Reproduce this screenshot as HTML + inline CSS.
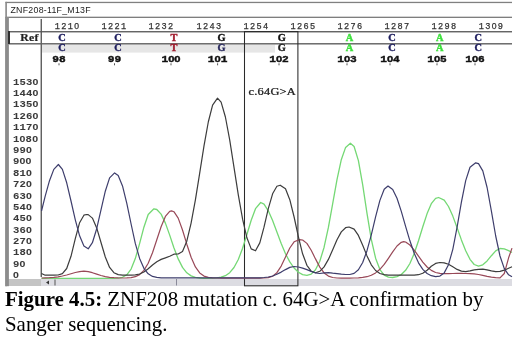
<!DOCTYPE html>
<html><head><meta charset="utf-8"><style>
html,body{margin:0;padding:0;background:#fff;}
body{width:520px;height:337px;position:relative;overflow:hidden;}
svg{position:absolute;left:0;top:0;will-change:transform;}
.cap{position:absolute;left:5px;top:287px;width:515px;font-family:"Liberation Serif",serif;font-size:20.9px;line-height:24.6px;color:#000;white-space:nowrap;will-change:transform;}
</style></head><body>
<svg width="520" height="290" viewBox="0 0 520 290">
<rect x="42" y="44.6" width="233" height="8" fill="#e6e6e6"/>
<rect x="8" y="279" width="504" height="7" fill="#dcdce2"/>
<rect x="8" y="279" width="33" height="7" fill="#c4c4c4"/>
<rect x="5.5" y="1.8" width="506.5" height="1.3" fill="#808080"/>
<rect x="5.5" y="16.7" width="506.5" height="1.2" fill="#707070"/>
<rect x="5.3" y="1.8" width="1.6" height="284.4" fill="#888"/>
<rect x="5.3" y="17" width="3.6" height="269.2" fill="#8c8c8c"/>
<rect x="40.6" y="19" width="1.3" height="258" fill="#505050"/>
<rect x="9" y="31.1" width="503" height="1.3" fill="#555"/>
<rect x="9" y="43.1" width="503" height="1.4" fill="#606060"/>
<rect x="8" y="31" width="2" height="13" fill="#303030"/>
<text x="10.5" y="13" font-family="Liberation Sans" font-size="8.8" fill="#222" letter-spacing="0.25">ZNF208-11F_M13F</text>
<text transform="translate(38.8 0) scale(1.13 1)" x="0" y="41" font-family="Liberation Serif" font-weight="bold" font-size="10.4" fill="#222" stroke="#222" stroke-width="0.2" text-anchor="end" letter-spacing="0.3">Ref</text>
<text x="67.5" y="28.8" font-family="Liberation Mono" font-size="8.6" fill="#333" stroke="#333" stroke-width="0.25" text-anchor="middle" letter-spacing="1.3">121<tspan font-family="Liberation Sans">0</tspan></text>
<text x="114.5" y="28.8" font-family="Liberation Mono" font-size="8.6" fill="#333" stroke="#333" stroke-width="0.25" text-anchor="middle" letter-spacing="1.3">1221</text>
<text x="161.5" y="28.8" font-family="Liberation Mono" font-size="8.6" fill="#333" stroke="#333" stroke-width="0.25" text-anchor="middle" letter-spacing="1.3">1232</text>
<text x="209.5" y="28.8" font-family="Liberation Mono" font-size="8.6" fill="#333" stroke="#333" stroke-width="0.25" text-anchor="middle" letter-spacing="1.3">1243</text>
<text x="256.5" y="28.8" font-family="Liberation Mono" font-size="8.6" fill="#333" stroke="#333" stroke-width="0.25" text-anchor="middle" letter-spacing="1.3">1254</text>
<text x="303.5" y="28.8" font-family="Liberation Mono" font-size="8.6" fill="#333" stroke="#333" stroke-width="0.25" text-anchor="middle" letter-spacing="1.3">1265</text>
<text x="350.5" y="28.8" font-family="Liberation Mono" font-size="8.6" fill="#333" stroke="#333" stroke-width="0.25" text-anchor="middle" letter-spacing="1.3">1276</text>
<text x="397.5" y="28.8" font-family="Liberation Mono" font-size="8.6" fill="#333" stroke="#333" stroke-width="0.25" text-anchor="middle" letter-spacing="1.3">1287</text>
<text x="444.5" y="28.8" font-family="Liberation Mono" font-size="8.6" fill="#333" stroke="#333" stroke-width="0.25" text-anchor="middle" letter-spacing="1.3">1298</text>
<text x="491.5" y="28.8" font-family="Liberation Mono" font-size="8.6" fill="#333" stroke="#333" stroke-width="0.25" text-anchor="middle" letter-spacing="1.3">13<tspan font-family="Liberation Sans">0</tspan>9</text>
<text transform="translate(62.0 0) scale(1.1 1)" x="0" y="40.6" font-family="Liberation Serif" font-weight="bold" font-size="9.4" fill="#1e1e5e" stroke="#1e1e5e" stroke-width="0.35" text-anchor="middle">C</text>
<text transform="translate(62.0 0) scale(1.1 1)" x="0" y="50.8" font-family="Liberation Serif" font-weight="bold" font-size="9.4" fill="#1e1e5e" stroke="#1e1e5e" stroke-width="0.35" text-anchor="middle">C</text>
<text transform="translate(118.0 0) scale(1.1 1)" x="0" y="40.6" font-family="Liberation Serif" font-weight="bold" font-size="9.4" fill="#1e1e5e" stroke="#1e1e5e" stroke-width="0.35" text-anchor="middle">C</text>
<text transform="translate(118.0 0) scale(1.1 1)" x="0" y="50.8" font-family="Liberation Serif" font-weight="bold" font-size="9.4" fill="#1e1e5e" stroke="#1e1e5e" stroke-width="0.35" text-anchor="middle">C</text>
<text transform="translate(174.0 0) scale(1.1 1)" x="0" y="40.6" font-family="Liberation Serif" font-weight="bold" font-size="9.4" fill="#a01a2c" stroke="#a01a2c" stroke-width="0.35" text-anchor="middle">T</text>
<text transform="translate(174.0 0) scale(1.1 1)" x="0" y="50.8" font-family="Liberation Serif" font-weight="bold" font-size="9.4" fill="#a01a2c" stroke="#a01a2c" stroke-width="0.35" text-anchor="middle">T</text>
<text transform="translate(221.5 0) scale(1.1 1)" x="0" y="40.6" font-family="Liberation Serif" font-weight="bold" font-size="9.4" fill="#111" stroke="#111" stroke-width="0.35" text-anchor="middle">G</text>
<text transform="translate(221.5 0) scale(1.1 1)" x="0" y="50.8" font-family="Liberation Serif" font-weight="bold" font-size="9.4" fill="#2a2a5e" stroke="#2a2a5e" stroke-width="0.35" text-anchor="middle">G</text>
<text transform="translate(281.8 0) scale(1.1 1)" x="0" y="40.6" font-family="Liberation Serif" font-weight="bold" font-size="9.4" fill="#111" stroke="#111" stroke-width="0.35" text-anchor="middle">G</text>
<text transform="translate(281.8 0) scale(1.1 1)" x="0" y="50.8" font-family="Liberation Serif" font-weight="bold" font-size="9.4" fill="#222" stroke="#222" stroke-width="0.35" text-anchor="middle">G</text>
<text transform="translate(349.6 0) scale(1.1 1)" x="0" y="40.6" font-family="Liberation Serif" font-weight="bold" font-size="9.4" fill="#3ee03e" stroke="#3ee03e" stroke-width="0.35" text-anchor="middle">A</text>
<text transform="translate(349.6 0) scale(1.1 1)" x="0" y="50.8" font-family="Liberation Serif" font-weight="bold" font-size="9.4" fill="#3ee03e" stroke="#3ee03e" stroke-width="0.35" text-anchor="middle">A</text>
<text transform="translate(392.0 0) scale(1.1 1)" x="0" y="40.6" font-family="Liberation Serif" font-weight="bold" font-size="9.4" fill="#1e1e5e" stroke="#1e1e5e" stroke-width="0.35" text-anchor="middle">C</text>
<text transform="translate(392.0 0) scale(1.1 1)" x="0" y="50.8" font-family="Liberation Serif" font-weight="bold" font-size="9.4" fill="#1e1e5e" stroke="#1e1e5e" stroke-width="0.35" text-anchor="middle">C</text>
<text transform="translate(439.8 0) scale(1.1 1)" x="0" y="40.6" font-family="Liberation Serif" font-weight="bold" font-size="9.4" fill="#3ee03e" stroke="#3ee03e" stroke-width="0.35" text-anchor="middle">A</text>
<text transform="translate(439.8 0) scale(1.1 1)" x="0" y="50.8" font-family="Liberation Serif" font-weight="bold" font-size="9.4" fill="#3ee03e" stroke="#3ee03e" stroke-width="0.35" text-anchor="middle">A</text>
<text transform="translate(478.3 0) scale(1.1 1)" x="0" y="40.6" font-family="Liberation Serif" font-weight="bold" font-size="9.4" fill="#1e1e5e" stroke="#1e1e5e" stroke-width="0.35" text-anchor="middle">C</text>
<text transform="translate(478.3 0) scale(1.1 1)" x="0" y="50.8" font-family="Liberation Serif" font-weight="bold" font-size="9.4" fill="#1e1e5e" stroke="#1e1e5e" stroke-width="0.35" text-anchor="middle">C</text>
<text transform="translate(59.0 0) scale(1.2 1)" x="0" y="61.7" font-family="Liberation Mono" font-weight="bold" font-size="9.3" fill="#111" stroke="#111" stroke-width="0.4" text-anchor="middle">98</text>
<rect x="58.5" y="63.3" width="1" height="2" fill="#555"/>
<text transform="translate(114.5 0) scale(1.2 1)" x="0" y="61.7" font-family="Liberation Mono" font-weight="bold" font-size="9.3" fill="#111" stroke="#111" stroke-width="0.4" text-anchor="middle">99</text>
<rect x="114.0" y="63.3" width="1" height="2" fill="#555"/>
<text transform="translate(171.0 0) scale(1.2 1)" x="0" y="61.7" font-family="Liberation Mono" font-weight="bold" font-size="9.3" fill="#111" stroke="#111" stroke-width="0.4" text-anchor="middle">1<tspan font-family="Liberation Sans">0</tspan><tspan font-family="Liberation Sans">0</tspan></text>
<rect x="170.5" y="63.3" width="1" height="2" fill="#555"/>
<text transform="translate(217.6 0) scale(1.2 1)" x="0" y="61.7" font-family="Liberation Mono" font-weight="bold" font-size="9.3" fill="#111" stroke="#111" stroke-width="0.4" text-anchor="middle">1<tspan font-family="Liberation Sans">0</tspan>1</text>
<rect x="217.1" y="63.3" width="1" height="2" fill="#555"/>
<text transform="translate(279.0 0) scale(1.2 1)" x="0" y="61.7" font-family="Liberation Mono" font-weight="bold" font-size="9.3" fill="#111" stroke="#111" stroke-width="0.4" text-anchor="middle">1<tspan font-family="Liberation Sans">0</tspan>2</text>
<rect x="278.5" y="63.3" width="1" height="2" fill="#555"/>
<text transform="translate(347.0 0) scale(1.2 1)" x="0" y="61.7" font-family="Liberation Mono" font-weight="bold" font-size="9.3" fill="#111" stroke="#111" stroke-width="0.4" text-anchor="middle">1<tspan font-family="Liberation Sans">0</tspan>3</text>
<rect x="346.5" y="63.3" width="1" height="2" fill="#555"/>
<text transform="translate(390.0 0) scale(1.2 1)" x="0" y="61.7" font-family="Liberation Mono" font-weight="bold" font-size="9.3" fill="#111" stroke="#111" stroke-width="0.4" text-anchor="middle">1<tspan font-family="Liberation Sans">0</tspan>4</text>
<rect x="389.5" y="63.3" width="1" height="2" fill="#555"/>
<text transform="translate(437.0 0) scale(1.2 1)" x="0" y="61.7" font-family="Liberation Mono" font-weight="bold" font-size="9.3" fill="#111" stroke="#111" stroke-width="0.4" text-anchor="middle">1<tspan font-family="Liberation Sans">0</tspan>5</text>
<rect x="436.5" y="63.3" width="1" height="2" fill="#555"/>
<text transform="translate(475.0 0) scale(1.2 1)" x="0" y="61.7" font-family="Liberation Mono" font-weight="bold" font-size="9.3" fill="#111" stroke="#111" stroke-width="0.4" text-anchor="middle">1<tspan font-family="Liberation Sans">0</tspan>6</text>
<rect x="474.5" y="63.3" width="1" height="2" fill="#555"/>
<text transform="translate(12.9 0) scale(1.2 1)" x="0" y="84.8" font-family="Liberation Mono" font-weight="bold" font-size="8.8" fill="#3a3a3a" stroke="#3a3a3a" stroke-width="0.05" letter-spacing="0.2">153<tspan font-family="Liberation Sans">0</tspan></text>
<text transform="translate(12.9 0) scale(1.2 1)" x="0" y="96.2" font-family="Liberation Mono" font-weight="bold" font-size="8.8" fill="#3a3a3a" stroke="#3a3a3a" stroke-width="0.05" letter-spacing="0.2">144<tspan font-family="Liberation Sans">0</tspan></text>
<text transform="translate(12.9 0) scale(1.2 1)" x="0" y="107.5" font-family="Liberation Mono" font-weight="bold" font-size="8.8" fill="#3a3a3a" stroke="#3a3a3a" stroke-width="0.05" letter-spacing="0.2">135<tspan font-family="Liberation Sans">0</tspan></text>
<text transform="translate(12.9 0) scale(1.2 1)" x="0" y="118.9" font-family="Liberation Mono" font-weight="bold" font-size="8.8" fill="#3a3a3a" stroke="#3a3a3a" stroke-width="0.05" letter-spacing="0.2">126<tspan font-family="Liberation Sans">0</tspan></text>
<text transform="translate(12.9 0) scale(1.2 1)" x="0" y="130.3" font-family="Liberation Mono" font-weight="bold" font-size="8.8" fill="#3a3a3a" stroke="#3a3a3a" stroke-width="0.05" letter-spacing="0.2">117<tspan font-family="Liberation Sans">0</tspan></text>
<text transform="translate(12.9 0) scale(1.2 1)" x="0" y="141.7" font-family="Liberation Mono" font-weight="bold" font-size="8.8" fill="#3a3a3a" stroke="#3a3a3a" stroke-width="0.05" letter-spacing="0.2">1<tspan font-family="Liberation Sans">0</tspan>8<tspan font-family="Liberation Sans">0</tspan></text>
<text transform="translate(12.9 0) scale(1.2 1)" x="0" y="153.1" font-family="Liberation Mono" font-weight="bold" font-size="8.8" fill="#3a3a3a" stroke="#3a3a3a" stroke-width="0.05" letter-spacing="0.2">99<tspan font-family="Liberation Sans">0</tspan></text>
<text transform="translate(12.9 0) scale(1.2 1)" x="0" y="164.4" font-family="Liberation Mono" font-weight="bold" font-size="8.8" fill="#3a3a3a" stroke="#3a3a3a" stroke-width="0.05" letter-spacing="0.2">9<tspan font-family="Liberation Sans">0</tspan><tspan font-family="Liberation Sans">0</tspan></text>
<text transform="translate(12.9 0) scale(1.2 1)" x="0" y="175.8" font-family="Liberation Mono" font-weight="bold" font-size="8.8" fill="#3a3a3a" stroke="#3a3a3a" stroke-width="0.05" letter-spacing="0.2">81<tspan font-family="Liberation Sans">0</tspan></text>
<text transform="translate(12.9 0) scale(1.2 1)" x="0" y="187.2" font-family="Liberation Mono" font-weight="bold" font-size="8.8" fill="#3a3a3a" stroke="#3a3a3a" stroke-width="0.05" letter-spacing="0.2">72<tspan font-family="Liberation Sans">0</tspan></text>
<text transform="translate(12.9 0) scale(1.2 1)" x="0" y="198.6" font-family="Liberation Mono" font-weight="bold" font-size="8.8" fill="#3a3a3a" stroke="#3a3a3a" stroke-width="0.05" letter-spacing="0.2">63<tspan font-family="Liberation Sans">0</tspan></text>
<text transform="translate(12.9 0) scale(1.2 1)" x="0" y="209.9" font-family="Liberation Mono" font-weight="bold" font-size="8.8" fill="#3a3a3a" stroke="#3a3a3a" stroke-width="0.05" letter-spacing="0.2">54<tspan font-family="Liberation Sans">0</tspan></text>
<text transform="translate(12.9 0) scale(1.2 1)" x="0" y="221.3" font-family="Liberation Mono" font-weight="bold" font-size="8.8" fill="#3a3a3a" stroke="#3a3a3a" stroke-width="0.05" letter-spacing="0.2">45<tspan font-family="Liberation Sans">0</tspan></text>
<text transform="translate(12.9 0) scale(1.2 1)" x="0" y="232.7" font-family="Liberation Mono" font-weight="bold" font-size="8.8" fill="#3a3a3a" stroke="#3a3a3a" stroke-width="0.05" letter-spacing="0.2">36<tspan font-family="Liberation Sans">0</tspan></text>
<text transform="translate(12.9 0) scale(1.2 1)" x="0" y="244.1" font-family="Liberation Mono" font-weight="bold" font-size="8.8" fill="#3a3a3a" stroke="#3a3a3a" stroke-width="0.05" letter-spacing="0.2">27<tspan font-family="Liberation Sans">0</tspan></text>
<text transform="translate(12.9 0) scale(1.2 1)" x="0" y="255.4" font-family="Liberation Mono" font-weight="bold" font-size="8.8" fill="#3a3a3a" stroke="#3a3a3a" stroke-width="0.05" letter-spacing="0.2">18<tspan font-family="Liberation Sans">0</tspan></text>
<text transform="translate(12.9 0) scale(1.2 1)" x="0" y="266.8" font-family="Liberation Mono" font-weight="bold" font-size="8.8" fill="#3a3a3a" stroke="#3a3a3a" stroke-width="0.05" letter-spacing="0.2">9<tspan font-family="Liberation Sans">0</tspan></text>
<text transform="translate(12.9 0) scale(1.2 1)" x="0" y="278.2" font-family="Liberation Mono" font-weight="bold" font-size="8.8" fill="#3a3a3a" stroke="#3a3a3a" stroke-width="0.05" letter-spacing="0.2"><tspan font-family="Liberation Sans">0</tspan></text>
<rect x="244.5" y="31.6" width="53.4" height="254.2" fill="none" stroke="#2a2a2a" stroke-width="1.05"/>
<text transform="translate(248.6 0) scale(1.32 1)" x="0" y="94.8" font-family="Liberation Serif" font-size="9.4" fill="#222" stroke="#222" stroke-width="0.25" letter-spacing="0.15">c.64G&gt;A</text>
<path d="M49 280.5 L46 282.5 L49 284.5 Z" fill="#333"/>
<rect x="54.5" y="279.5" width="1" height="6" fill="#555"/>
<rect x="176" y="279" width="1" height="6.5" fill="#8a8a9a"/>
<defs><filter id="b" x="-5%" y="-5%" width="110%" height="110%"><feGaussianBlur stdDeviation="0.35"/></filter></defs>
<g fill="none" stroke-width="1.2" stroke-linejoin="round" filter="url(#b)">
<path d="M41.5 278.4 L45.2 278.4 L49.5 278.4 L53.8 278.4 L58.1 278.4 L62.4 278.4 L66.7 278.4 L71.0 278.4 L75.3 278.4 L79.6 278.4 L83.9 278.4 L88.2 278.4 L92.4 278.4 L96.7 278.4 L101.0 278.4 L105.3 278.4 L109.6 278.4 L113.9 278.3 L118.2 278.1 L122.5 277.3 L126.8 274.8 L131.1 269.1 L135.3 258.6 L139.6 243.6 L143.9 227.2 L148.2 214.5 L153.9 208.8 L156.8 209.5 L161.1 214.1 L165.4 223.1 L169.7 235.1 L173.9 247.8 L178.2 258.9 L182.5 267.4 L186.8 272.8 L191.1 275.9 L195.4 277.4 L199.7 278.0 L204.0 278.3 L208.3 278.3 L212.6 278.2 L216.9 277.9 L221.1 277.2 L225.4 275.7 L229.7 272.7 L234.0 267.5 L238.3 259.5 L242.6 248.2 L246.9 234.5 L251.2 220.3 L255.5 208.7 L260.7 202.5 L264.0 204.2 L268.3 210.8 L272.6 220.6 L276.9 232.1 L281.2 243.6 L285.5 253.7 L289.8 261.9 L294.1 268.0 L298.4 272.2 L302.6 274.6 L306.9 275.3 L311.2 274.1 L315.5 269.8 L319.8 261.3 L324.1 247.2 L328.4 227.4 L332.7 203.7 L337.0 179.6 L341.3 159.7 L345.6 147.4 L350.4 143.3 L354.1 146.5 L358.4 160.6 L362.7 184.8 L367.0 213.3 L371.3 239.3 L375.6 258.2 L379.9 269.6 L384.2 275.1 L388.4 277.2 L392.7 277.5 L397.0 276.6 L401.3 274.5 L405.6 270.3 L409.9 263.5 L414.2 253.5 L418.5 240.8 L422.8 226.8 L427.1 213.6 L431.3 203.7 L435.6 198.4 L438.6 197.5 L444.2 200.2 L448.5 206.5 L452.8 216.1 L457.1 227.8 L461.4 239.9 L465.7 250.8 L470.0 259.3 L474.2 264.5 L478.5 266.2 L482.8 264.8 L487.1 260.9 L491.4 255.7 L495.7 250.9 L500.0 248.5 L504.3 248.9 L508.6 250.6 L512.0 252.5" stroke="#74d874" stroke-width="1.3"/>
<path d="M41.5 278.0 L45.2 277.9 L49.5 277.7 L53.8 277.4 L58.1 276.8 L62.4 276.0 L66.7 275.0 L71.0 273.7 L75.3 272.5 L79.6 271.6 L83.9 271.2 L88.2 271.6 L92.4 272.7 L96.7 274.1 L101.0 275.5 L105.3 276.6 L109.6 277.3 L113.9 277.7 L118.2 277.9 L122.5 278.0 L126.8 277.9 L131.1 277.6 L135.3 276.7 L139.6 274.6 L143.9 270.4 L148.2 263.2 L152.5 252.7 L156.8 239.7 L161.1 226.7 L165.4 216.4 L169.7 211.3 L171.6 210.9 L173.9 211.7 L178.2 218.1 L182.5 230.0 L186.8 244.2 L191.1 257.2 L195.4 266.9 L199.7 272.9 L204.0 276.1 L208.3 277.4 L212.6 277.9 L216.9 278.0 L221.1 278.1 L225.4 278.1 L229.7 278.1 L234.0 278.1 L238.3 278.1 L242.6 278.1 L246.9 278.1 L251.2 278.1 L255.5 278.1 L259.8 278.1 L264.0 278.0 L268.3 277.6 L272.6 276.2 L276.9 272.7 L281.2 266.1 L285.5 257.1 L289.8 248.0 L294.1 241.8 L299.6 239.6 L302.6 240.0 L306.9 243.4 L311.2 250.2 L315.5 258.9 L319.8 267.1 L324.1 272.9 L328.4 276.1 L332.7 277.5 L337.0 278.0 L341.3 278.1 L345.6 278.1 L349.8 278.1 L354.1 278.0 L358.4 277.8 L362.7 277.4 L367.0 276.7 L371.3 275.3 L375.6 272.9 L379.9 269.3 L384.2 264.4 L388.4 258.3 L392.7 251.8 L397.0 246.0 L401.3 242.3 L403.7 241.6 L405.6 242.0 L409.9 245.0 L414.2 250.2 L418.5 256.2 L422.8 262.1 L427.1 267.0 L431.3 270.4 L435.6 272.5 L439.9 273.4 L444.2 273.7 L448.5 273.6 L452.8 273.5 L457.1 273.4 L461.4 273.4 L465.7 273.5 L470.0 273.6 L474.2 273.9 L478.5 274.5 L482.8 275.4 L487.1 276.3 L491.4 277.1 L495.7 277.7 L500.0 277.8 L504.3 273.5 L508.6 257.8 L512.0 248.1" stroke="#984858"/>
<path d="M41.5 273.5 L45.2 275.2 L49.5 275.2 L53.8 275.2 L58.1 275.0 L62.4 273.6 L66.7 268.5 L71.0 256.3 L75.3 238.6 L79.6 222.7 L83.9 215.2 L86.5 214.5 L88.2 214.6 L92.4 218.1 L96.7 227.9 L101.0 242.5 L105.3 257.0 L109.6 267.4 L113.9 272.7 L118.2 274.6 L122.5 275.1 L126.8 275.2 L131.1 275.2 L135.3 274.9 L139.6 274.0 L143.9 272.0 L148.2 268.8 L152.5 265.0 L156.8 261.7 L161.1 259.4 L165.4 257.9 L169.7 256.2 L173.9 254.2 L178.2 254.0 L182.5 251.6 L186.8 241.2 L191.1 223.1 L195.4 199.8 L199.7 173.1 L204.0 145.9 L208.3 122.0 L212.6 105.2 L217.5 98.2 L221.1 102.2 L225.4 117.0 L229.7 139.9 L234.0 167.3 L238.3 194.9 L242.6 219.2 L246.9 237.8 L251.2 248.9 L255.5 250.8 L259.8 242.9 L264.0 227.2 L268.3 208.7 L272.6 193.8 L276.9 186.3 L280.2 185.2 L285.5 188.8 L289.8 199.7 L294.1 217.0 L298.4 236.8 L302.6 253.8 L306.9 265.3 L311.2 271.2 L315.5 272.8 L319.8 271.3 L324.1 266.9 L328.4 259.4 L332.7 249.8 L337.0 239.8 L341.3 231.9 L345.6 227.7 L349.0 227.0 L354.1 229.1 L358.4 235.4 L362.7 245.2 L367.0 255.9 L371.3 264.8 L375.6 270.5 L379.9 273.5 L384.2 274.7 L388.4 275.1 L392.7 275.2 L397.0 275.2 L401.3 275.2 L405.6 275.2 L409.9 275.2 L414.2 275.1 L418.5 274.7 L422.8 273.2 L427.1 270.2 L431.3 266.3 L435.6 263.4 L439.9 262.5 L444.2 262.9 L448.5 264.3 L452.8 266.8 L457.1 269.4 L461.4 271.1 L465.7 271.6 L470.0 270.9 L474.2 269.9 L478.5 269.3 L482.8 269.2 L487.1 269.9 L491.4 270.9 L495.7 271.6 L500.0 271.4 L504.3 270.2 L508.6 268.2 L512.0 266.8" stroke="#3c3c3c"/>
<path d="M41.5 211.0 L45.2 196.2 L49.5 180.7 L53.8 169.4 L58.4 164.5 L62.4 169.4 L66.7 182.8 L71.0 201.0 L75.3 219.8 L79.6 235.8 L83.9 246.1 L88.2 248.8 L92.4 242.7 L96.7 228.7 L101.0 209.8 L105.3 191.2 L109.6 177.9 L114.6 172.9 L118.2 175.4 L122.5 185.9 L126.8 203.4 L131.1 224.0 L135.3 243.4 L139.6 258.4 L143.9 268.3 L148.2 273.8 L152.5 276.4 L156.8 277.4 L161.1 277.8 L165.4 277.9 L169.7 277.9 L173.9 277.9 L178.2 277.9 L182.5 277.9 L186.8 277.9 L191.1 277.9 L195.4 277.9 L199.7 277.9 L204.0 277.9 L208.3 277.9 L212.6 277.9 L216.9 277.9 L221.1 277.9 L225.4 277.9 L229.7 277.9 L234.0 277.9 L238.3 277.9 L242.6 277.9 L246.9 277.9 L251.2 277.9 L255.5 277.9 L259.8 277.8 L264.0 277.5 L268.3 277.0 L272.6 276.0 L276.9 274.3 L281.2 272.1 L285.5 269.6 L289.8 267.4 L294.1 266.5 L298.4 267.0 L302.6 268.1 L306.9 269.6 L311.2 271.4 L315.5 272.9 L319.8 273.5 L324.1 272.8 L328.4 272.6 L332.7 273.2 L337.0 273.6 L341.3 274.1 L345.6 274.5 L349.8 274.5 L354.1 273.4 L358.4 269.8 L362.7 262.5 L367.0 250.7 L371.3 234.8 L375.6 216.9 L379.9 200.4 L384.2 189.3 L388.0 186.0 L392.7 189.4 L397.0 198.3 L401.3 211.4 L405.6 226.3 L409.9 240.8 L414.2 253.3 L418.5 262.8 L422.8 269.4 L427.1 273.5 L431.3 275.7 L435.6 276.7 L439.9 276.1 L444.2 272.9 L448.5 264.7 L452.8 249.3 L457.1 227.1 L461.4 202.1 L465.7 180.6 L470.0 167.3 L475.7 162.8 L478.5 163.6 L482.8 170.9 L487.1 187.5 L491.4 211.2 L495.7 236.0 L500.0 256.0 L504.3 268.6 L508.6 274.8 L512.0 276.8" stroke="#3e3e6c"/>
</g>
</svg>
<div class="cap"><b>Figure 4.5:</b> ZNF208 mutation c. 64G&gt;A confirmation by<br>Sanger sequencing.</div>
</body></html>
